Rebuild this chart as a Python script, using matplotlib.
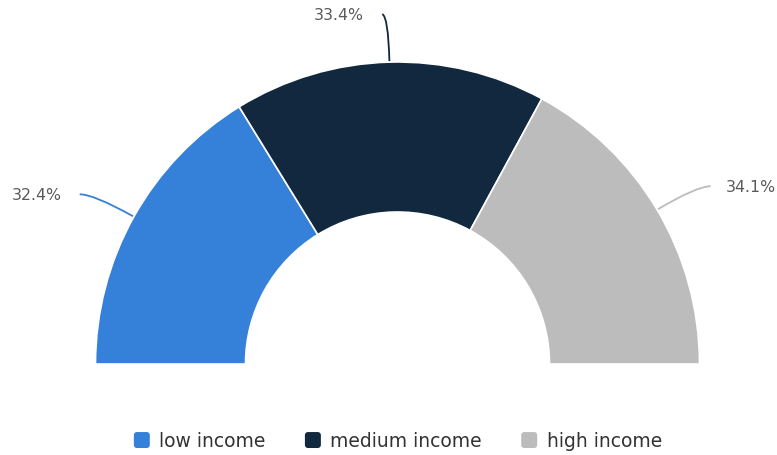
import numpy as np
import matplotlib.pyplot as plt
from matplotlib.path import Path
from matplotlib.patches import PathPatch, FancyBboxPatch, Patch
from matplotlib.legend_handler import HandlerPatch

categories = ["low income", "medium income", "high income"]
shares = [32.4, 33.4, 34.1]
colors = ["#3580d9", "#12283e", "#bcbcbc"]

W, H = 777, 456
fig = plt.figure(figsize=(W / 100, H / 100), dpi=100)
ax = fig.add_axes([0, 0, 1, 1])

cx, cy = 397.5, H - 365
R = 302
ring = 150

total = sum(shares)
# half donut: add invisible remainder equal to the total
wedges, _ = ax.pie(shares + [total], colors=colors + ["none"], startangle=180,
                   counterclock=False, center=(cx, cy), radius=R,
                   wedgeprops=dict(width=ring, edgecolor="white", linewidth=1.2),
                   frame=True)
wedges[-1].set_edgecolor("none")
ax.set_xlim(0, W)
ax.set_ylim(0, H)
ax.set_aspect("equal")
ax.axis("off")

# labels with curved connectors
start = 180.0
for val, col in zip(shares, colors):
    span = val / total * 180
    mid = np.radians(start - span / 2)
    start -= span
    c, s = np.cos(mid), np.sin(mid)
    p0 = (cx + (R + 1) * c, cy + (R + 1) * s)
    p1 = (cx + (R + 46) * c, cy + (R + 46) * s)
    side = -1 if c < 0.3 else 1
    ext = 6 if abs(c) < 0.1 else 14
    p2 = (p1[0] + side * ext, p1[1] + (2 if abs(c) < 0.1 else 0))
    path = Path([p0, p1, p2], [Path.MOVETO, Path.CURVE3, Path.CURVE3])
    ax.add_patch(PathPatch(path, fc="none", ec=col, lw=1.3))
    gap = 18 if side < 0 else 15
    ax.text(p2[0] + side * gap, p2[1], "{:.1f}%".format(val),
            ha="right" if side < 0 else "left", va="center",
            fontsize=11.3, color="#5a5a5a")


class RoundHandler(HandlerPatch):
    def create_artists(self, legend, orig_handle, xdescent, ydescent,
                       width, height, fontsize, trans):
        size = 11.5
        x0 = -xdescent + (width - size) / 2
        y0 = -ydescent + (height - size) / 2
        p = FancyBboxPatch((x0 + 1.5, y0 + 1.5), size - 3, size - 3,
                           boxstyle="round,pad=1.5,rounding_size=2.2",
                           fc=orig_handle.get_facecolor(), ec="none",
                           transform=trans)
        return [p]


handles = [Patch(facecolor=c) for c in colors]
fig.legend(handles, categories, loc="center", bbox_to_anchor=(0.512, 1 - 442 / H),
           ncol=3, frameon=False, fontsize=13.5, labelcolor="#333333",
           handler_map={Patch: RoundHandler()}, handlelength=0.85,
           handleheight=0.9, handletextpad=0.5, columnspacing=2.1)

fig.savefig("out.png", dpi=100)
